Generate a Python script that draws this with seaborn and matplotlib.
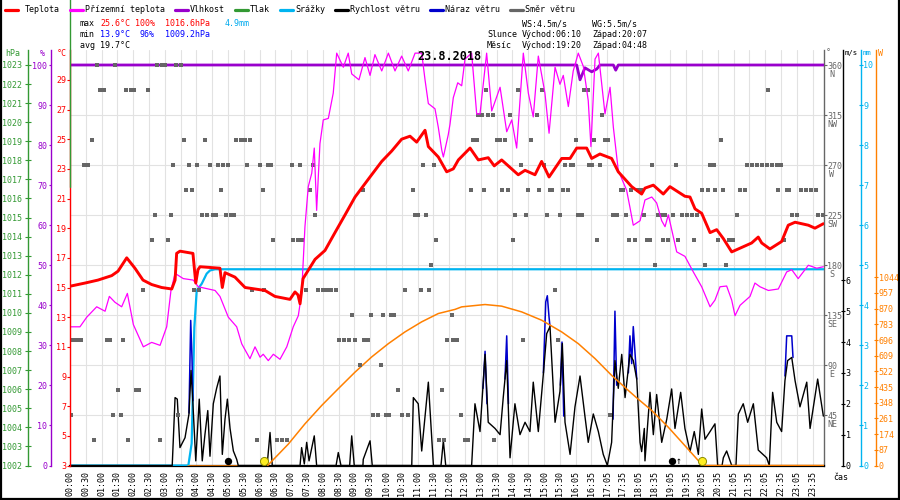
import matplotlib
matplotlib.use("Agg")
import matplotlib.pyplot as plt
from matplotlib.lines import Line2D
import pandas as pd
import seaborn as sns

# ------------------------------------------------------------------ data
time_labels = ["00:00", "00:30", "01:00", "01:30", "02:00", "02:30", "03:00", "03:30",
               "04:00", "04:30", "05:00", "05:30", "06:00", "06:30", "07:00", "07:30",
               "08:00", "08:30", "09:00", "09:30", "10:00", "10:30", "11:00", "11:30",
               "12:00", "12:30", "13:00", "13:30", "14:00", "14:30", "15:00", "15:30",
               "16:05", "16:35", "17:05", "17:35", "18:05", "18:35", "19:05", "19:35",
               "20:05", "20:35", "21:05", "21:35", "22:05", "22:35", "23:05", "23:35"]

# x positions are in label steps (one step = one tick label)
temp_x = [0.06, 0.95, 1.77, 2.64, 3.04, 3.59, 4.11, 4.62, 5.17, 5.80, 6.44, 6.65, 6.75, 6.96,
          7.78, 7.96, 8.10, 8.23, 9.49, 9.64, 9.81, 10.44, 11.08, 11.71, 12.34, 12.97, 13.92,
          14.24, 14.43, 14.56, 14.75, 15.51, 16.14, 16.77, 17.41, 18.04, 18.88, 19.73, 20.36,
          20.99, 21.52, 21.94, 22.47, 22.68, 23.31, 23.84, 24.26, 24.58, 25.32, 25.84, 26.47,
          26.85, 27.32, 28.37, 28.80, 29.43, 29.85, 30.32, 31.12, 31.65, 32.07, 32.70, 33.02,
          33.54, 34.28, 34.70, 35.55, 36.18, 36.39, 36.92, 37.55, 37.97, 38.92, 39.24, 39.56,
          39.98, 40.51, 40.93, 41.35, 41.88, 42.51, 43.14, 43.56, 43.78, 44.30, 45.04, 45.46,
          45.89, 46.73, 47.15, 47.68]
temp_v = [15.1, 15.3, 15.5, 15.8, 16.1, 17.0, 16.3, 15.5, 15.2, 15.0, 14.9, 15.5, 17.3, 17.45,
          17.3, 15.3, 16.2, 16.4, 16.3, 15.0, 16.0, 15.7, 15.0, 14.9, 14.8, 14.4, 14.2,
          14.7, 14.5, 13.9, 15.6, 16.9, 17.5, 18.7, 19.9, 21.1, 22.3, 23.5, 24.2,
          25.0, 25.2, 24.8, 25.6, 24.5, 23.8, 22.8, 23.0, 23.6, 24.4, 23.6, 23.75,
          23.2, 23.6, 22.6, 22.9, 22.6, 23.5, 22.45, 23.7, 23.7, 24.4, 24.4, 23.7,
          24.0, 23.7, 22.8, 21.8, 21.3, 21.7, 21.9, 21.3, 21.8, 21.15, 21.1, 20.3,
          20.0, 18.7, 18.9, 18.3, 17.4, 17.7, 18.0, 18.4, 18.0, 17.6, 18.1, 19.2,
          19.4, 19.2, 19.0, 19.3]

feel_x = [0.06, 0.63, 1.06, 1.69, 2.22, 2.49, 2.85, 3.27, 3.63, 4.01, 4.64, 5.17, 5.70, 6.12,
          6.39, 6.65, 7.17, 7.80, 8.12, 9.18, 9.49, 10.02, 10.55, 10.87, 11.39, 11.71, 12.03,
          12.23, 12.55, 12.87, 13.29, 13.72, 14.13, 14.45, 14.66, 14.87, 15.08, 15.30, 15.46,
          15.61, 15.82, 16.03, 16.35, 16.66, 16.88, 17.30, 17.61, 17.83, 18.29, 18.67, 18.99,
          19.30, 19.73, 20.15, 20.57, 20.99, 21.41, 21.84, 22.26, 22.47, 22.68, 23.10, 23.31,
          23.53, 23.63, 23.94, 24.05, 24.26, 24.54, 24.79, 25.00, 25.42, 25.74, 25.95, 26.37,
          26.69, 27.22, 27.64, 27.96, 28.27, 28.69, 29.01, 29.32, 29.64, 30.06, 30.32, 30.70,
          31.01, 31.22, 31.54, 31.85, 32.17, 32.49, 32.80, 32.97, 33.23, 33.44, 33.86, 34.18,
          34.39, 34.70, 35.23, 35.44, 35.65, 36.08, 36.39, 36.82, 37.13, 37.45, 37.66, 37.87,
          38.08, 38.40, 38.92, 39.45, 39.98, 40.51, 40.82, 41.14, 41.56, 41.88, 42.09, 42.41,
          43.04, 43.35, 43.67, 44.20, 44.83, 45.36, 45.68, 46.09, 46.73, 47.26, 47.68]
feel_v = [12.35, 12.35, 13.0, 13.7, 13.4, 14.4, 14.0, 13.7, 14.6, 12.5, 11.0, 11.3, 11.1, 12.35,
          14.8, 15.95, 15.6, 15.5, 15.05, 14.8, 14.4, 13.0, 12.35, 11.2, 10.2, 11.0, 10.3,
          10.5, 10.07, 10.5, 10.16, 11.0, 12.35, 13.1, 14.6, 19.1, 21.8, 22.7, 24.4,
          20.2, 24.7, 26.3, 26.4, 28.1, 30.8, 29.85, 30.8, 29.4, 29.0, 30.5, 29.3,
          30.7, 29.6, 30.8, 29.6, 30.6, 29.6, 30.8, 30.8, 29.0, 27.4, 27.05, 25.8,
          24.25, 23.8, 25.3, 26.0, 27.8, 28.8, 28.6, 30.4, 30.8, 26.7, 26.7, 30.8,
          26.9, 28.5, 25.5, 26.3, 24.4, 30.8, 28.1, 26.5, 30.6, 28.1, 25.4, 29.85,
          28.7, 29.3, 27.2, 29.6, 30.8, 29.9, 27.6, 24.5, 30.4, 30.8, 26.7, 28.5,
          25.8, 22.9, 21.55, 20.4, 19.2, 19.5, 20.9, 21.1, 20.7, 19.5, 19.1, 19.9,
          18.9, 17.4, 17.1, 16.05, 15.05, 13.7, 14.15, 15.05, 15.1, 14.15, 13.1, 13.8,
          14.4, 15.3, 15.05, 14.8, 14.9, 16.05, 16.2, 15.6, 16.5, 16.3, 16.4]

hum_x = [0.0, 32.07, 32.28, 32.59, 33.02, 33.34, 33.54, 34.39, 34.54, 34.70, 47.72]
hum_v = [100, 100, 96.3, 99.3, 98.3, 99.0, 100, 100, 98.7, 100, 100]

press_x = [0.0, 0.0]
press_v = [1026.5, 1016.6]

rain_x = [0.0, 7.49, 7.70, 7.87, 8.02, 8.34, 8.65, 8.86, 9.18, 47.72]
rain_v = [0.0, 0.0, 0.55, 3.45, 4.37, 4.54, 4.79, 4.87, 4.9, 4.9]

wind_x = [0.0, 6.47, 6.65, 6.79, 6.96, 7.28, 7.53, 7.66, 7.77, 7.96, 8.18, 8.37, 8.54, 8.72,
          8.86, 9.07, 9.28, 9.49, 9.64, 9.81, 9.96, 10.13, 10.34, 10.55, 10.65, 12.47, 12.51,
          12.66, 12.80, 14.56, 14.66, 14.83, 14.98, 15.13, 15.46, 15.61, 16.84, 16.98, 17.15,
          17.70, 17.83, 17.99, 18.54, 18.56, 18.99, 19.13, 21.63, 21.73, 22.04, 22.26, 22.68,
          23.00, 23.48, 23.63, 23.78, 25.42, 25.63, 25.95, 26.27, 26.47, 26.90, 27.22, 27.42,
          27.64, 27.85, 28.16, 28.48, 28.80, 29.11, 29.32, 29.64, 29.96, 30.17, 30.38, 30.70,
          31.01, 31.16, 31.33, 31.65, 31.96, 32.28, 32.59, 32.80, 33.12, 33.44, 33.75, 34.01,
          34.28, 34.49, 34.70, 34.92, 35.13, 35.44, 35.65, 35.76, 35.87, 36.08, 36.18, 36.35,
          36.39, 36.71, 36.92, 37.13, 37.45, 37.77, 38.08, 38.29, 38.65, 38.92, 39.24, 39.51,
          39.77, 39.98, 40.19, 40.51, 40.82, 40.99, 41.27, 41.35, 41.56, 41.88, 42.15, 42.30,
          42.61, 42.89, 43.25, 43.56, 44.09, 44.26, 44.47, 44.73, 45.04, 45.25, 45.42, 45.68,
          45.89, 46.20, 46.63, 46.84, 47.32, 47.68]
wind_v = [0.0, 0.0, 2.2, 2.15, 0.58, 0.9, 1.67, 3.08, 2.1, 0.15, 2.15, 0.15, 1.0, 1.78,
          0.3, 2.0, 2.5, 2.9, 0.36, 1.5, 2.15, 1.2, 0.47, 0.2, 0.0, 0.0, 0.2,
          1.07, 0.0, 0.0, 0.58, 0.05, 0.75, 0.15, 0.96, 0.0, 0.0, 0.42, 0.0,
          0.0, 0.96, 0.0, 0.0, 0.2, 0.8, 0.0, 0.0, 2.2, 2.0, 0.47, 2.7,
          0.0, 0.0, 0.8, 0.0, 0.0, 2.0, 1.1, 3.6, 1.4, 1.2, 1.0, 2.2,
          3.4, 0.25, 2.0, 1.0, 1.4, 1.1, 2.7, 1.1, 2.97, 4.27, 4.5, 1.4,
          2.4, 3.95, 1.4, 0.36, 1.9, 2.9, 1.6, 0.75, 1.67, 1.1, 0.36, 0.0,
          0.75, 3.4, 2.5, 3.6, 2.2, 3.6, 3.4, 3.1, 2.8, 0.75, 0.45, 1.2,
          0.15, 2.37, 1.0, 2.3, 0.75, 1.5, 2.48, 1.2, 2.37, 1.2, 0.45, 1.1,
          0.36, 1.83, 0.85, 1.1, 1.35, 0.0, 0.0, 0.25, 0.47, 0.0, 0.0, 1.67,
          2.0, 1.4, 2.0, 0.5, 0.25, 0.0, 2.37, 1.4, 1.1, 2.75, 3.4, 3.5,
          2.75, 1.9, 2.7, 1.2, 2.8, 1.6]

gust_segments = [
    [(7.53, 1.7), (7.64, 4.7), (7.72, 3.5), (7.78, 2.1)],
    [(26.14, 2.5), (26.27, 3.7), (26.39, 2.0)],
    [(27.53, 2.8), (27.64, 4.2), (27.75, 2.0)],
    [(29.96, 3.0), (30.11, 5.3), (30.21, 5.5), (30.32, 4.8), (30.38, 4.5)],
    [(31.04, 2.6), (31.14, 4.0), (31.25, 1.6)],
    [(34.37, 1.5), (34.49, 5.0), (34.60, 2.6)],
    [(35.34, 3.0), (35.44, 4.2), (35.55, 3.3), (35.65, 4.5), (35.76, 3.65), (35.87, 2.8)],
    [(45.25, 2.9), (45.36, 4.2), (45.68, 4.2), (45.76, 3.5)],
]

solar_segments = [
    [(7.49, 0), (10.60, 0)],
    [(12.51, 0), (13.82, 119), (14.87, 231), (15.93, 333), (16.98, 426), (18.04, 518),
     (19.09, 602), (20.15, 676), (21.20, 741), (22.26, 797), (23.31, 843), (24.37, 866),
     (24.79, 880), (26.27, 893), (27.32, 884), (28.59, 852), (29.85, 806), (31.12, 741),
     (32.17, 676), (33.23, 593), (34.28, 500), (35.34, 416), (35.87, 375), (36.82, 305),
     (37.87, 212), (38.92, 110), (39.87, 17), (39.98, 0), (47.72, 0)],
]

sun_x = [12.28, 39.98]
moon_x = [10.02, 38.12]

dir_points = {
    360.0: [1.69, 2.85, 5.49, 5.80, 5.99, 6.71, 7.03],
    337.5: [1.88, 2.17, 3.53, 3.84, 4.05, 4.96, 26.31, 28.34, 29.85, 32.55, 32.77, 44.16],
    315.0: [25.84, 26.06, 26.47, 26.75, 27.85, 29.54, 33.65],
    292.5: [1.37, 7.22, 8.54, 10.51, 10.80, 11.08, 11.39, 25.49, 25.74, 27.01, 27.22, 27.53,
            29.18, 32.03, 33.16, 33.86, 34.07, 41.20],
    270.0: [0.91, 1.16, 6.50, 7.53, 8.04, 8.86, 9.35, 9.66, 9.98, 11.18, 12.03, 12.51, 12.72,
            14.03, 14.56, 15.40, 22.32, 23.04, 28.54, 30.00, 31.33, 31.71, 31.85, 32.85, 33.06,
            33.54, 36.84, 38.34, 40.51, 40.76, 42.87, 43.18, 43.50, 43.82, 44.13, 44.45, 44.73,
            45.00],
    247.5: [7.34, 7.72, 9.54, 12.22, 15.19, 18.53, 21.69, 25.38, 26.20, 27.32, 27.70, 29.01,
            29.68, 30.38, 30.53, 31.18, 31.54, 34.85, 35.02, 35.49, 35.97, 36.14, 39.98, 40.40,
            40.82, 41.31, 42.41, 42.72, 44.83, 45.36, 45.53, 46.25, 46.56, 46.88, 47.20],
    225.0: [5.38, 6.39, 8.34, 8.67, 9.03, 9.22, 9.85, 10.19, 10.38, 15.51, 21.84, 22.04, 22.51,
            28.16, 28.84, 30.17, 31.01, 32.17, 32.39, 34.39, 34.64, 35.17, 36.33, 37.20, 37.41,
            37.66, 38.15, 38.72, 39.03, 39.35, 39.66, 42.20, 45.72, 45.99, 47.36, 47.64],
    202.5: [5.19, 6.20, 12.85, 14.13, 14.41, 14.68, 23.16, 28.06, 33.37, 35.38, 35.76, 36.50,
            36.71, 37.55, 37.83, 38.50, 39.51, 40.99, 41.73, 41.98, 45.19],
    180.0: [22.85, 37.03, 40.19, 41.52],
    157.5: [4.62, 7.85, 8.18, 11.50, 12.26, 14.92, 15.72, 15.99, 16.27, 16.54, 16.82, 21.20,
            22.20, 22.70, 30.70],
    135.0: [17.83, 19.05, 19.83, 20.32, 20.53, 24.16],
    112.5: [0.21, 0.46, 0.68, 2.34, 2.55, 3.37, 17.03, 17.34, 17.66, 18.04, 18.63, 18.88,
            23.89, 24.21, 24.51, 28.65, 30.87],
    90.0: [18.35, 19.68],
    67.5: [3.02, 4.18, 4.39, 20.74, 23.53],
    45.0: [0.06, 2.70, 3.21, 6.82, 19.20, 19.51, 20.00, 20.21, 20.99, 21.37, 24.75, 34.18],
    22.5: [1.52, 3.69, 5.70, 11.82, 13.08, 13.40, 13.72, 23.35, 23.67, 25.00, 25.21, 26.84],
}

temp_ticks = [3, 5, 7, 9, 11, 13, 15, 17, 19, 21, 23, 25, 27, 29]
hum_ticks = [0, 10, 20, 30, 40, 50, 60, 70, 80, 90, 100]
press_ticks = list(range(1002, 1024))
dir_ticks = [45, 90, 135, 180, 225, 270, 315, 360]
dir_names = ["NE", "E", "SE", "S", "SW", "W", "NW", "N"]
ws_ticks = [0, 1, 2, 3, 4, 5, 6]
mm_ticks = [0, 1, 2, 3, 4, 5, 6, 7, 8, 9, 10]
wm_ticks = [0, 87, 174, 261, 348, 435, 522, 609, 696, 783, 870, 957, 1044]

# ------------------------------------------------------------------ style
sns.set_style("white")
plt.rcParams["font.family"] = ["DejaVu Sans Mono", "DejaVu Sans"]
plt.rcParams["font.size"] = 6

C_T, C_F, C_H, C_P = "#ff0000", "#ff00ff", "#9900cc", "#339933"
C_R, C_W, C_G, C_D, C_S = "#00b4f0", "#000000", "#0000cc", "#666666", "#ff8000"

FW, FH = 900.0, 500.0
PT = 0.72
L, R, T, B = 70.0, 824.0, 50.0, 465.5
STEP = 15.8
rect = [L / FW, 1 - B / FH, (R - L) / FW, (B - T) / FH]
EXT = (B - T) / (B - 65.0)

fig = plt.figure(figsize=(9, 5), dpi=100)
fig.patch.set_facecolor("white")
ax = fig.add_axes(rect)


def twin():
    a = fig.add_axes(rect, sharex=ax)
    a.patch.set_visible(False)
    a.xaxis.set_visible(False)
    for s in a.spines.values():
        s.set_visible(False)
    a.grid(False)
    return a


ax_p = twin()
ax_mm = twin()
ax_ws = twin()
ax_w = twin()
ax_h = twin()
ax_d = twin()
ax_t = twin()
ax_p.set_zorder(1)


def style_y(a, side, color, off_px, ticks, labels, direction, length_px, pad_px):
    sp = a.spines[side]
    sp.set_visible(True)
    sp.set_color(color)
    sp.set_linewidth(1.0)
    sp.set_position(("outward", off_px * PT))
    if side == "left":
        a.yaxis.tick_left()
    else:
        a.yaxis.tick_right()
    a.set_yticks(ticks)
    a.set_yticklabels(labels)
    a.tick_params(axis="y", colors=color, direction=direction, length=length_px * PT,
                  width=0.8, pad=pad_px * PT, labelsize=6)


# ---- base axes: grid, time axis and direction scale
for s in ["left", "top"]:
    ax.spines[s].set_visible(False)
ax.spines["bottom"].set_color("black")
ax.spines["bottom"].set_linewidth(1.6)
style_y(ax, "right", C_D, 0, dir_ticks, [str(t) for t in dir_ticks], "out", 3, 0.3)
for d, n in zip(dir_ticks, dir_names):
    ax.annotate(n, xy=(1, d), xycoords=("axes fraction", "data"), xytext=(8 * PT, -9 * PT),
                textcoords="offset points", ha="center", va="center", color=C_D,
                fontsize=6, annotation_clip=False)
ax.set_xticks(range(len(time_labels)))
ax.set_xticklabels(time_labels, rotation=90)
ax.tick_params(axis="x", colors="black", direction="out", length=3 * PT, width=0.8,
               pad=2 * PT, labelsize=6)
ax.grid(True, color="#e2e2e2", linewidth=0.8)
ax.set_axisbelow(True)

# ---- pressure
sns.lineplot(x=press_x, y=press_v, ax=ax_p, estimator=None, sort=False, color=C_P,
             linewidth=1.0, legend=False)
for ln in ax_p.lines:
    ln.set_clip_on(False)
style_y(ax_p, "left", C_P, 41.7, press_ticks, [str(t) for t in press_ticks], "inout", 6.5, 3.3)

# ---- precipitation
sns.lineplot(x=rain_x, y=rain_v, ax=ax_mm, estimator=None, sort=False, color=C_R,
             linewidth=1.6, legend=False)
style_y(ax_mm, "right", C_R, 36.7, mm_ticks, [str(t) for t in mm_ticks], "inout", 4.5, 0.2)

# ---- wind gusts and speed
gust_df = pd.DataFrame([(i, x, v) for i, seg in enumerate(gust_segments) for x, v in seg],
                       columns=["seg", "x", "v"])
sns.lineplot(data=gust_df, x="x", y="v", units="seg", estimator=None, sort=False, ax=ax_ws,
             color=C_G, linewidth=1.1, legend=False)
sns.lineplot(x=wind_x, y=wind_v, ax=ax_ws, estimator=None, sort=False, color=C_W,
             linewidth=1.0, legend=False)
style_y(ax_ws, "right", "black", 19.3, ws_ticks, [str(t) for t in ws_ticks], "inout", 4.5, 0.2)

# ---- solar radiation
solar_df = pd.DataFrame([(i, x, v) for i, seg in enumerate(solar_segments) for x, v in seg],
                        columns=["seg", "x", "v"])
sns.lineplot(data=solar_df, x="x", y="v", units="seg", estimator=None, sort=False, ax=ax_w,
             color=C_S, linewidth=1.1, legend=False)
style_y(ax_w, "right", C_S, 52, wm_ticks, [str(t) for t in wm_ticks], "inout", 4.5, 0.6)
W_TOP = 1044 * (B - T) / (B - 277.3)
ev_y = 5.0 / (B - T) * W_TOP
sns.scatterplot(x=moon_x, y=[ev_y] * len(moon_x), ax=ax_w, s=28, color="black",
                linewidth=0, legend=False, zorder=5)
sns.scatterplot(x=sun_x, y=[ev_y] * len(sun_x), ax=ax_w, s=34, color="#ffee22",
                edgecolor="#8a8a00", linewidth=0.7, legend=False, zorder=5)
ax_w.text(moon_x[1] + 0.42, 0, "\u2191", ha="center", va="bottom", fontsize=7,
          color="black", family=["DejaVu Sans Mono", "DejaVu Sans"])

# ---- humidity
sns.lineplot(x=hum_x, y=hum_v, ax=ax_h, estimator=None, sort=False, color=C_H,
             linewidth=2.0, legend=False)
style_y(ax_h, "left", C_H, 19.3, hum_ticks, [str(t) for t in hum_ticks], "out", 2.5, 0.8)

# ---- wind direction squares
dir_x = [x for d in dir_points for x in dir_points[d]]
dir_v = [d for d in dir_points for _ in dir_points[d]]
sns.scatterplot(x=dir_x, y=dir_v, ax=ax_d, marker="s", s=8.5, color=C_D, linewidth=0,
                legend=False)
ax_d.set_yticks([])

# ---- temperatures
sns.lineplot(x=feel_x, y=feel_v, ax=ax_t, estimator=None, sort=False, color=C_F,
             linewidth=0.9, legend=False)
sns.lineplot(x=temp_x, y=temp_v, ax=ax_t, estimator=None, sort=False, color=C_T,
             linewidth=2.1, legend=False)
style_y(ax_t, "left", C_T, 0, temp_ticks, [str(t) for t in temp_ticks], "out", 3.5, 0.5)

# ---- limits
ax.set_xlim(0, (R - L) / STEP)
ax.set_ylim(0, 360 * EXT)
ax_d.set_ylim(0, 360 * EXT)
ax_t.set_ylim(3, 3 + 27 * EXT)
ax_h.set_ylim(0, 100 * EXT)
ax_p.set_ylim(1002, 1002 + 21 * EXT)
ax_mm.set_ylim(0, 10 * EXT)
ax_ws.set_ylim(0, 6 * (B - T) / (B - 280.3))
ax_w.set_ylim(0, W_TOP)
for a in [ax, ax_p, ax_mm, ax_ws, ax_w, ax_h, ax_d, ax_t]:
    a.set_xlabel("")
    a.set_ylabel("")


# ------------------------------------------------------------------ texts
def ftext(px, py, s, color="black", size=6, ha="left", va="center", weight="normal"):
    fig.text(px / FW, 1 - py / FH, s, color=color, fontsize=size, ha=ha, va=va,
             fontweight=weight, zorder=10)


legend_items = [("Teplota", C_T, 5, 25), ("Přízemní teplota", C_F, 70, 85),
                ("Vlhkost", C_H, 175, 190), ("Tlak", C_P, 235, 250),
                ("Srážky", C_R, 280, 295), ("Rychlost větru", C_W, 335, 350),
                ("Náraz větru", C_G, 430, 445), ("Směr větru", C_D, 510, 525)]
for name, col, mx, tx in legend_items:
    fig.add_artist(Line2D([mx / FW, (mx + 13) / FW], [1 - 10 / FH, 1 - 10 / FH], color=col,
                          linewidth=2.3, transform=fig.transFigure))
    ftext(tx, 10, name)

ftext(80, 24, "max")
ftext(100, 24, "25.6°C", C_T)
ftext(135, 24, "100%", C_T)
ftext(165, 24, "1016.6hPa", C_T)
ftext(225, 24, "4.9mm", "#00aaee")
ftext(80, 34, "min")
ftext(100, 34, "13.9°C", "#0000ff")
ftext(140, 34, "96%", "#0000ff")
ftext(165, 34, "1009.2hPa", "#0000ff")
ftext(80, 45, "avg 19.7°C")

ftext(522, 24, "WS:4.5m/s")
ftext(592, 24, "WG:5.5m/s")
ftext(487, 34, "Slunce")
ftext(522, 34, "Východ:06:10")
ftext(592, 34, "Západ:20:07")
ftext(487, 45, "Měsíc")
ftext(522, 45, "Východ:19:20")
ftext(592, 45, "Západ:04:48")

ftext(449, 57, "23.8.2018", size=8.5, ha="center", weight="bold")

ftext(5, 54, "hPa", C_P)
ftext(40, 54, "%", C_H)
ftext(57, 54, "°C", C_T)
ftext(826, 53, "°", C_D)
ftext(845, 53, "m/s", "black", size=5.2)
ftext(862.5, 53, "mm", "#00aaee", size=5.2)
ftext(878, 53, "W", C_S)
ftext(833, 473, "čas", "black", va="top")

for xs, ys in [([0.5 / FW, 0.5 / FW], [0, 1]), ([1 - 1 / FW, 1 - 1 / FW], [0, 1]),
               ([0, 1], [1.5 / FH, 1.5 / FH])]:
    fig.add_artist(Line2D(xs, ys, color="black", linewidth=1.6, transform=fig.transFigure))

fig.savefig("out.png", dpi=100, facecolor="white")
